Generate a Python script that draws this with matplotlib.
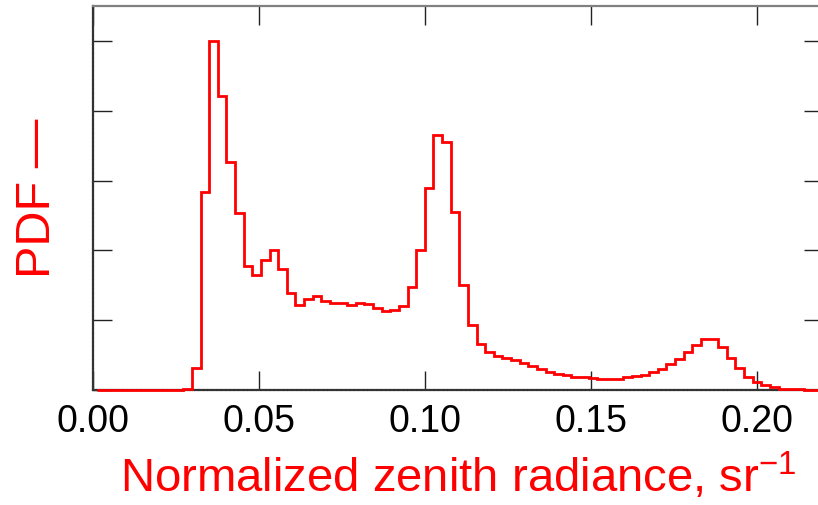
import numpy as np
import matplotlib
matplotlib.use("Agg")
import matplotlib.pyplot as plt

# ---- data ----
first_edge = 0.0012      # left edge of first bin
bin_width = 0.0026
pdf_values = [
    0, 0, 0, 0, 0, 0, 0, 0, 0, 0,          # empty bins at low radiance
    0.01,
    0.32, 2.83, 5.00, 4.21, 3.27, 2.53, 1.78, 1.64, 1.86, 2.00,
    1.73, 1.39, 1.22, 1.30, 1.34, 1.28, 1.25, 1.25, 1.22, 1.24,
    1.23, 1.17, 1.13, 1.14, 1.21, 1.48, 2.01, 2.89, 3.65, 3.55,
    2.55, 1.50, 0.93, 0.66, 0.54, 0.48, 0.46, 0.435, 0.39, 0.35,
    0.30, 0.26, 0.23, 0.21, 0.19, 0.18, 0.17, 0.16, 0.16, 0.16,
    0.18, 0.20, 0.22, 0.26, 0.30, 0.37, 0.44, 0.54, 0.64, 0.73,
    0.73, 0.62, 0.46, 0.31, 0.19, 0.12, 0.07, 0.04, 0.02, 0.01,
    0.01, 0.005, 0.005, 0.002, 0.0,
]
x_ticks = [0.00, 0.05, 0.10, 0.15, 0.20]
x_tick_labels = ["0.00", "0.05", "0.10", "0.15", "0.20"]
y_ticks = [0, 1, 2, 3, 4, 5]
x_label = "Normalized zenith radiance, sr$^{\\mathrm{-1}}$"
y_label = "PDF \u2014"

edges = first_edge + bin_width * np.arange(len(pdf_values) + 1)

plt.rcParams['mathtext.fontset'] = 'custom'
plt.rcParams['mathtext.rm'] = 'Liberation Sans'
plt.rcParams['mathtext.it'] = 'Liberation Sans'

fig = plt.figure(figsize=(8.18, 5.05), dpi=100)
ax = fig.add_axes([93 / 818, 115 / 505, 730 / 818, 384 / 505])

ax.stairs(pdf_values, edges, color='#ff0000', linewidth=2.0, baseline=None,
          zorder=3, clip_on=False)

ax.set_xlim(0, 0.22)
ax.set_ylim(0, 5.5)
ax.set_xticks(x_ticks)
ax.set_xticklabels(x_tick_labels, family=['Liberation Sans', 'DejaVu Sans'],
                   fontsize=27)
ax.set_yticks(y_ticks)
ax.set_yticklabels([])
ax.tick_params(direction='in', length=14, width=1.0, color='#222222',
               top=True, right=True, pad=10)

for side in ['top', 'right']:
    ax.spines[side].set_color('#808080')
    ax.spines[side].set_linewidth(1.6)
for side in ['left', 'bottom']:
    ax.spines[side].set_color('#333333')
    ax.spines[side].set_linewidth(1.6)
    ax.spines[side].set_linestyle((0, (1.2, 0.8)))

ax.set_xlabel(x_label, family=['Liberation Sans', 'DejaVu Sans'], fontsize=34,
              color='#ff0000', labelpad=8)
fig.text(38 / 818, 1 - 198 / 505, y_label, rotation=90, ha='center', va='center',
         family=['Liberation Sans', 'DejaVu Sans'], fontsize=35, color='#ff0000')

fig.savefig('out.png', dpi=100)
